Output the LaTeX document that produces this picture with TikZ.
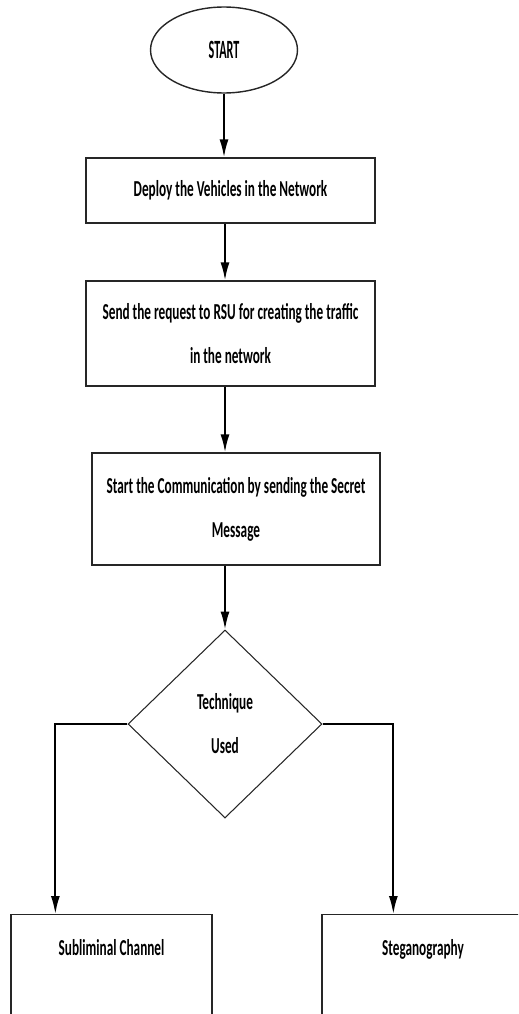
\documentclass[tikz,border=0pt]{standalone}
\usepackage{fontspec}
\setmainfont{Carlito}[FakeStretch=0.58]
\newfontfamily\startfont{Carlito}[FakeStretch=0.46]
\usetikzlibrary{shapes.geometric, arrows.meta}

\begin{document}
\begin{tikzpicture}[x=0.02cm, y=-0.02cm,
  box/.style={draw=black!85, line width=0.75pt, align=center, inner sep=0pt, font=\fontsize{13}{25}\selectfont\bfseries},
  arr/.style={-{Latex[length=0.36cm, width=0.18cm]}, line width=1.1pt}]
  \useasboundingbox (0,0) rectangle (518,1014);
  \clip (0,0) rectangle (518,1014);
  \node[ellipse, draw=black!85, line width=0.8pt, minimum width=2.94cm, minimum height=1.72cm, inner sep=0pt, font=\startfont\fontsize{15}{18}\selectfont\bfseries] (start) at (224,50) {START};
  \node[box, minimum width=5.78cm, minimum height=1.3cm] (deploy) at (230.5,190.5) {Deploy the Vehicles in the Network};
  \node[box, minimum width=5.78cm, minimum height=2.1cm] (request) at (230.5,333.5) {Send the request to RSU for creating the traffic\\in the network};
  \node[box, minimum width=5.76cm, minimum height=2.24cm] (comm) at (236,509) {Start the Communication by sending the Secret\\Message};
  \node[diamond, draw=black!85, line width=0.6pt, aspect=1, minimum width=3.88cm, minimum height=3.76cm, inner sep=0pt, align=center, font=\fontsize{13}{25}\selectfont\bfseries] (tech) at (225,724) {Technique\\Used};
  \node[box, anchor=north, minimum width=4.02cm, text height=8pt, text depth=3cm, inner ysep=15pt] (sub) at (111.5,914) {Subliminal Channel};
  \node[box, anchor=north, minimum width=4.04cm, text height=8pt, text depth=3cm, inner ysep=15pt] (steg) at (423,914) {Steganography};
  \draw[arr] (start) -- (start |- deploy.north);
  \draw[arr] (deploy.south -| tech) -- (request.north -| tech);
  \draw[arr] (request.south -| tech) -- (comm.north -| tech);
  \draw[arr] (comm.south -| tech) -- (tech.north);
  \draw[arr] (tech.west) -| ([xshift=0.9cm]sub.north west);
  \draw[arr] (tech.east) -| ([xshift=1.44cm]steg.north west);
\end{tikzpicture}
\end{document}
